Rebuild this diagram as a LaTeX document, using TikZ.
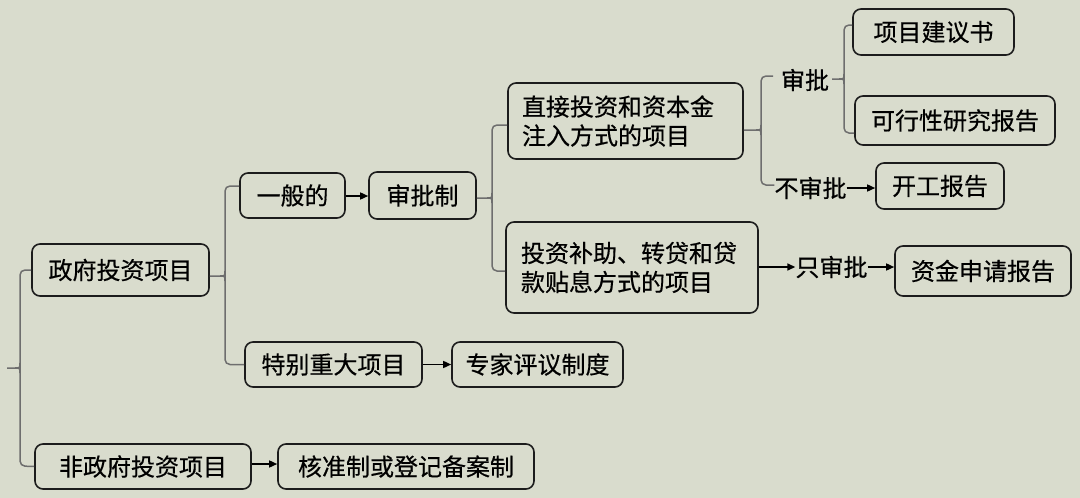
\documentclass[tikz,border=0pt]{standalone}
\usepackage{fontspec}
\setmainfont{Noto Sans CJK SC}[FakeBold=0.5]
\usetikzlibrary{arrows.meta}
\definecolor{bg}{HTML}{D9DCCD}
\definecolor{bd}{HTML}{1C1C1C}
\definecolor{brc}{HTML}{6E6E6E}
\tikzset{
  box/.style={draw=bd, line width=1.6pt, rounded corners=8pt, fill=bg, inner sep=0pt, align=left,
    font=\fontsize{24pt}{29pt}\selectfont},
  lbl/.style={inner sep=0pt, font=\fontsize{24pt}{29pt}\selectfont},
  br/.style={draw=brc, line width=1.5pt},
  arr/.style={draw=black, line width=1.5pt, -{Triangle[length=8pt,width=7pt]}},
}
\begin{document}
\begin{tikzpicture}[x=1pt,y=-1pt]
\fill[bg] (0,0) rectangle (1080,498);
\useasboundingbox (0,0) rectangle (1080,498);
% boxes
\node[box, minimum width=177pt, minimum height=52pt] (gov) at (120.5,270) {政府投资项目};
\node[box, minimum width=105pt, minimum height=45pt] (yiban) at (292.5,195.5) {一般的};
\node[box, minimum width=107pt, minimum height=47pt] (spz) at (422.5,195.5) {审批制};
\node[box, minimum width=177pt, minimum height=45pt] (tebie) at (333.5,364.5) {特别重大项目};
\node[box, minimum width=171pt, minimum height=45pt] (zjpy) at (537.5,364.5) {专家评议制度};
\node[box, minimum width=216pt, minimum height=45pt] (nongov) at (143,466.5) {非政府投资项目};
\node[box, minimum width=256pt, minimum height=45pt] (hezhun) at (406,466.5) {核准制或登记备案制};
\node[box, minimum width=235pt, minimum height=76pt, inner xsep=14pt, text width=207pt] (zhijie) at (625.5,121) {直接投资和资本金\\注入方式的项目};
\node[box, minimum width=252pt, minimum height=91pt, inner xsep=15pt, text width=222pt] (butie) at (632,267.5) {投资补助、转贷和贷\\款贴息方式的项目};
\node[box, minimum width=161pt, minimum height=46pt] (xmjys) at (933.5,32) {项目建议书};
\node[box, minimum width=200pt, minimum height=49pt] (kxx) at (955,120.5) {可行性研究报告};
\node[box, minimum width=128pt, minimum height=46pt] (kgbg) at (940,186) {开工报告};
\node[box, minimum width=176pt, minimum height=50pt] (zjsq) at (983,271) {资金申请报告};
% plain labels
\node[lbl] (sp) at (805,80) {审批};
\node[lbl] (bsp) at (810.5,188) {不审批};
\node[lbl] (zsp) at (831.5,267) {只审批};
% root brace
\draw[br, rounded corners=5pt] (gov.west) -- (20,270) -- (20,466) -- (nongov.west);
\coordinate (root) at (7,368);
\draw[br] (root) -- (15,368) .. controls (20,368) .. (20,363);
\draw[br] (15,368) .. controls (20,368) .. (20,373);
% gov brace
\draw[br, rounded corners=5pt] (yiban.west |- 0,186) -- (225,186) -- (225,364.5) -- (tebie.west);
\draw[br] ([yshift=-6pt]gov.east) -- (220,276) .. controls (225,276) .. (225,271);
\draw[br] (220,276) .. controls (225,276) .. (225,281);
% spz brace
\draw[br, rounded corners=5pt] (zhijie.west |- 0,125) -- (492,125) -- (492,271) -- (butie.west |- 0,271);
\draw[br] ([yshift=-2.5pt]spz.east) -- (487,198) .. controls (492,198) .. (492,193);
\draw[br] (487,198) .. controls (492,198) .. (492,203);
% zhijie brace
\draw[br, rounded corners=5pt] (773,76) -- (761,76) -- (761,185) -- (bsp.west |- 0,185);
\draw[br] ([yshift=-9pt]zhijie.east) -- (756,130) .. controls (761,130) .. (761,125);
\draw[br] (756,130) .. controls (761,130) .. (761,135);
% sp brace
\draw[br, rounded corners=5pt] (xmjys.west |- 0,25) -- (844,25) -- (844,133) -- (kxx.west |- 0,133);
\draw[br] ([xshift=3pt]sp.east |- 0,79) -- (839,79) .. controls (844,79) .. (844,74);
\draw[br] (839,79) .. controls (844,79) .. (844,84);
% arrows
\draw[arr] (yiban.east |- 0,196) -- (spz.west |- 0,196);
\draw[arr] (tebie.east) -- (zjpy.west);
\draw[arr] (nongov.east |- 0,464) -- (hezhun.west |- 0,464);
\draw[arr] (bsp.east |- 0,188) -- (kgbg.west |- 0,188);
\draw[arr] (butie.east |- 0,267) -- (zsp.west |- 0,267);
\draw[arr] (zsp.east |- 0,267) -- (zjsq.west |- 0,267);
\end{tikzpicture}
\end{document}
